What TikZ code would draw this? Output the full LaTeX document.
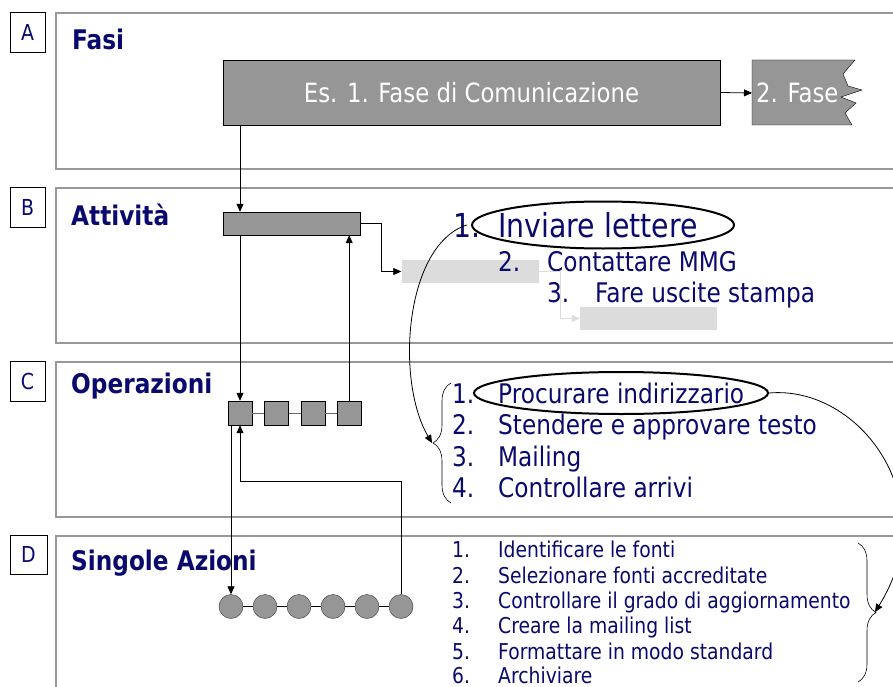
\documentclass[tikz,border=0pt]{standalone}
\usepackage{fontspec}
\setmainfont[FakeStretch=0.86]{DejaVu Sans}
\usepackage{tikz}
\usetikzlibrary{positioning, arrows.meta, calc, shapes.geometric, decorations.pathreplacing}
\definecolor{navytext}{RGB}{10,10,110}
\definecolor{barfill}{RGB}{150,150,150}
\definecolor{ghostfill}{RGB}{220,220,220}
\definecolor{panelline}{RGB}{152,152,152}

\begin{document}
\begin{tikzpicture}[x=1pt,y=-1pt]
	% Define styles
	\tikzset{
		panel/.style={draw=panelline, line width=2.5pt},
		letterbox/.style={rectangle, draw, line width=0.6pt, minimum width=35pt, minimum height=40pt, font=\fontsize{22}{26}\selectfont, text=navytext},
		title/.style={anchor=base west, inner sep=0pt, font=\bfseries\fontsize{27}{32}\selectfont, text=navytext},
		bar/.style={rectangle, draw, fill=barfill, inner sep=0pt},
		ghost/.style={rectangle, fill=ghostfill, minimum width=137pt, minimum height=23pt, inner sep=0pt},
		op/.style={rectangle, draw, fill=barfill, minimum size=24pt, inner sep=0pt},
		act/.style={circle, draw=black!80, fill=barfill, minimum size=24pt, inner sep=0pt},
		item/.style={anchor=base west, inner sep=0pt, text=navytext},
		oval/.style={ellipse, draw, line width=2pt},
		link/.style={draw, line width=0.8pt},
		line/.style={draw, line width=0.8pt, -{Triangle[length=8pt,width=7pt]}},
		brace/.style={decorate, decoration={brace, amplitude=18pt}, line width=0.6pt}
	}
	\clip (0,0) rectangle (893,687);
	\fill[white] (0,0) rectangle (893,687);
	
	% Panels
	\draw[panel] (56,13) rectangle (910,169);
	\draw[panel] (56,188) rectangle (910,343);
	\draw[panel] (56,362) rectangle (910,517);
	\draw[panel] (56,536) rectangle (910,700);
	
	\node[letterbox] (la) at (27.5,32) {A};
	\node[letterbox] (lb) at (27.5,207) {B};
	\node[letterbox] (lc) at (27.5,381) {C};
	\node[letterbox, minimum width=37pt, minimum height=39pt] (ld) at (28.5,554.5) {D};
	
	\node[title] (fasi) at (72,50) {Fasi};
	\node[title] (attivita) at (71,225) {Attività};
	\node[title] (operazioni) at (71,393) {Operazioni};
	\node[title] (azioni) at (71,570) {Singole Azioni};
	
	% Nodes
	\node[bar, minimum width=497pt, minimum height=65pt, text=white, font=\fontsize{26.5}{30}\selectfont] (faseA) at (471.5,92.5) {Es. 1. Fase di Comunicazione};
	\draw[fill=barfill] (752,60) -- (855,60) -- (843,74) -- (848,86) -- (862,90) -- (841,97) -- (856,103) -- (845,113) -- (852,125) -- (752,125) -- cycle;
	\node[anchor=west, inner sep=4pt, text=white, font=\fontsize{26.5}{30}\selectfont] (fase2) at (752,93) {2. Fase};
	
	\node[bar, minimum width=137pt, minimum height=23pt] (barB) at (291.5,223.5) {};
	\node[ghost] (ghostA) at (470,271.5) {};
	\node[ghost] (ghostB) at (648.5,318.5) {};
	
	\node[op] (sq1) at (240,413) {};
	\node[op, right=12pt of sq1] (sq2) {};
	\node[op, right=12pt of sq2] (sq3) {};
	\node[op, right=12pt of sq3] (sq4) {};
	
	\node[act] (c1) at (231,606.5) {};
	\node[act, right=9.6pt of c1] (c2) {};
	\node[act, right=9.6pt of c2] (c3) {};
	\node[act, right=9.6pt of c3] (c4) {};
	\node[act, right=9.6pt of c4] (c5) {};
	\node[act, right=9.6pt of c5] (c6) {};
	
	% Lists
	\node[item, font=\fontsize{33}{38}\selectfont] (bn1) at (453,237) {1.};
	\node[item, font=\fontsize{33}{38}\selectfont] (bt1) at (498,237) {Inviare lettere};
	\node[item, font=\fontsize{27}{32}\selectfont] (bn2) at (498,271) {2.};
	\node[item, font=\fontsize{27}{32}\selectfont] (bt2) at (547,271) {Contattare MMG};
	\node[item, font=\fontsize{27}{32}\selectfont] (bn3) at (547,302) {3.};
	\node[item, font=\fontsize{27}{32}\selectfont] (bt3) at (595,302) {Fare uscite stampa};
	\node[oval, minimum width=262pt, minimum height=47pt] (ovB) at (603,225) {};
	
	\node[item, font=\fontsize{27}{32}\selectfont] (cn1) at (452,403) {1.};
	\node[item, font=\fontsize{27}{32}\selectfont] (ct1) at (498,403) {Procurare indirizzario};
	\node[item, font=\fontsize{27}{32}\selectfont] (cn2) at (452,434) {2.};
	\node[item, font=\fontsize{27}{32}\selectfont] (ct2) at (498,434) {Stendere e approvare testo};
	\node[item, font=\fontsize{27}{32}\selectfont] (cn3) at (452,466) {3.};
	\node[item, font=\fontsize{27}{32}\selectfont] (ct3) at (498,466) {Mailing};
	\node[item, font=\fontsize{27}{32}\selectfont] (cn4) at (452,497) {4.};
	\node[item, font=\fontsize{27}{32}\selectfont] (ct4) at (498,497) {Controllare arrivi};
	\node[oval, minimum width=294pt, minimum height=42pt] (ovC) at (621,393) {};
	\draw[brace] (451,503) -- (451,383);
	\coordinate (braceC) at (432,443);
	
	\node[item, font=\fontsize{21.8}{25}\selectfont] (dn1) at (452,557) {1.};
	\node[item, font=\fontsize{21.8}{25}\selectfont] (dt1) at (498,557) {Identificare le fonti};
	\node[item, font=\fontsize{21.8}{25}\selectfont] (dn2) at (452,583) {2.};
	\node[item, font=\fontsize{21.8}{25}\selectfont] (dt2) at (498,583) {Selezionare fonti accreditate};
	\node[item, font=\fontsize{21.8}{25}\selectfont] (dn3) at (452,608) {3.};
	\node[item, font=\fontsize{21.8}{25}\selectfont] (dt3) at (498,608) {Controllare il grado di aggiornamento};
	\node[item, font=\fontsize{21.8}{25}\selectfont] (dn4) at (452,633) {4.};
	\node[item, font=\fontsize{21.8}{25}\selectfont] (dt4) at (498,633) {Creare la mailing list};
	\node[item, font=\fontsize{21.8}{25}\selectfont] (dn5) at (452,659) {5.};
	\node[item, font=\fontsize{21.8}{25}\selectfont] (dt5) at (498,659) {Formattare in modo standard};
	\node[item, font=\fontsize{21.8}{25}\selectfont] (dn6) at (452,683) {6.};
	\node[item, font=\fontsize{21.8}{25}\selectfont] (dt6) at (498,683) {Archiviare};
	\draw[brace] (858,543) -- (858,682);
	\coordinate (braceD) at (875,612);
	
	% Arrows
	\draw[line] (faseA.east) -- (fase2.west);
	\draw[line] (sq1 |- faseA.south) -- (sq1 |- barB.north);
	\draw[line] (sq1 |- barB.south) -- (sq1.north);
	\draw[line] (sq4.north) -- (sq4 |- barB.south);
	\draw[line] (barB.east) -- ++(21,0) |- (ghostA.west);
	\draw[line, draw=ghostfill] (ghostA.east) -- ++(22,0) |- (ghostB.west);
	
	\draw[link, draw=black!60] (sq1.east) -- (sq2.west);
	\draw[link, draw=black!60] (sq2.east) -- (sq3.west);
	\draw[link, draw=black!60] (sq3.east) -- (sq4.west);
	\draw[link] (c1.east) -- (c2.west);
	\draw[link] (c2.east) -- (c3.west);
	\draw[link] (c3.east) -- (c4.west);
	\draw[link] (c4.east) -- (c5.west);
	\draw[link] (c5.east) -- (c6.west);
	
	\coordinate (loopD) at (399,481);
	\draw[line] (c1 |- sq1.south) -- (c1.north);
	\draw[line] (c6.north) -- (c6 |- loopD) -| (sq1.south);
	
	\draw[line] (bn1.center) .. controls (405,245) and (395,380) .. (braceC);
	\draw[line] (ovC.east) .. controls (860,385) and (945,500) .. (braceD);
\end{tikzpicture}
\end{document}
